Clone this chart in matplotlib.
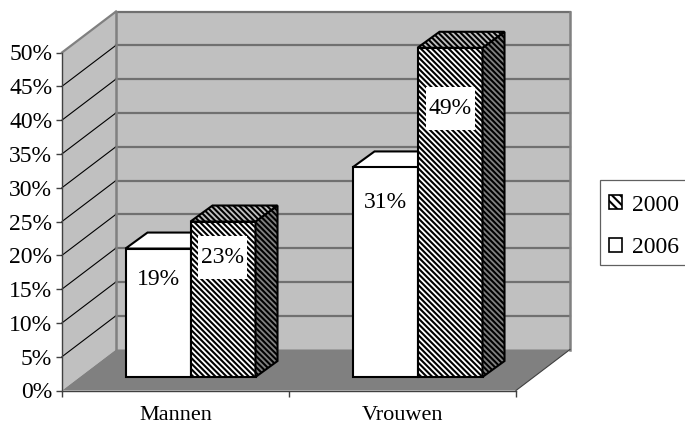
import matplotlib
matplotlib.use('Agg')
import matplotlib.pyplot as plt
from matplotlib.patches import Polygon, Rectangle, Patch

plt.rcParams['font.family'] = ['Liberation Serif', 'DejaVu Serif']
plt.rcParams['hatch.linewidth'] = 1.5

# Data
categories = ['Mannen', 'Vrouwen']
years = ['2000', '2006']
values_2006 = [19, 31]
values_2000 = [23, 48.7]
y_ticks = [0, 5, 10, 15, 20, 25, 30, 35, 40, 45, 50]

# Layout in pixels of the 685x425 picture
W, H = 685, 425
LEFT, RIGHT, BOTTOM, TOP = 62, 516, 390.5, 52.5
PX_X = (RIGHT - LEFT) / 2     # pixels per category
PX_Y = (BOTTOM - TOP) / 50    # pixels per percent
WALL_DX, WALL_DY = 54 / PX_X, 41 / PX_Y
BAR_X, BAR_Y = 15 / PX_X, 13.5 / PX_Y   # bars stand a bit into the floor
BAR_DX, BAR_DY = 22 / PX_X, 16 / PX_Y
BAR_W = 65 / PX_X
FONT = 17
HATCH = '\\' * 6

fig = plt.figure(figsize=(W / 100, H / 100), dpi=100)
ax = fig.add_axes([LEFT / W, 1 - BOTTOM / H, (RIGHT - LEFT) / W, (BOTTOM - TOP) / H])
ax.set_xlim(0, 2)
ax.set_ylim(0, 50)
ax.patch.set_visible(False)


def face(points, **kw):
    ax.add_patch(Polygon(points, closed=True, clip_on=False, **kw))


# Walls and floor
face([(0, 0), (WALL_DX, WALL_DY), (WALL_DX, 50 + WALL_DY), (0, 50)], fc='#c0c0c0', ec='none', zorder=1)
face([(WALL_DX, WALL_DY), (2 + WALL_DX, WALL_DY), (2 + WALL_DX, 50 + WALL_DY), (WALL_DX, 50 + WALL_DY)],
     fc='#c0c0c0', ec='none', zorder=1)
face([(0, 0), (2, 0), (2 + WALL_DX, WALL_DY), (WALL_DX, WALL_DY)], fc='#808080', ec='none', zorder=1)

# Gridlines
for t in y_ticks[1:]:
    ax.plot([WALL_DX, 2 + WALL_DX], [t + WALL_DY, t + WALL_DY], color='#707070', lw=1.6, clip_on=False, zorder=2)
    ax.plot([0, WALL_DX], [t, t + WALL_DY], color='#808080' if t == 50 else 'black',
            lw=1.6 if t == 50 else 0.8, clip_on=False, zorder=2)
ax.plot([WALL_DX, WALL_DX], [WALL_DY, 50 + WALL_DY], color='#808080', lw=1.8, clip_on=False, zorder=2)
ax.plot([2 + WALL_DX, 2 + WALL_DX], [WALL_DY, 50 + WALL_DY], color='#808080', lw=1.8, clip_on=False, zorder=2)
ax.plot([2, 2 + WALL_DX], [0, WALL_DY], color='#404040', lw=0.8, clip_on=False, zorder=2)


def draw_bar(x, value, hatched, z):
    x = x + BAR_X
    base = BAR_Y
    top = base + value
    right = x + BAR_W
    kw = dict(ec='black', lw=1.5, zorder=z)
    if hatched:
        face([(x, base), (right, base), (right, top), (x, top)], fc='white', hatch=HATCH, **kw)
        face([(right, base), (right + BAR_DX, base + BAR_DY), (right + BAR_DX, top + BAR_DY), (right, top)],
             fc='#808080', hatch=HATCH, **kw)
        face([(x, top), (right, top), (right + BAR_DX, top + BAR_DY), (x + BAR_DX, top + BAR_DY)],
             fc='#c0c0c0', hatch=HATCH, **kw)
    else:
        face([(right, base), (right + BAR_DX, base + BAR_DY), (right + BAR_DX, top + BAR_DY), (right, top)],
             fc='#808080', **kw)
        face([(x, top), (right, top), (right + BAR_DX, top + BAR_DY), (x + BAR_DX, top + BAR_DY)],
             fc='white', **kw)
        face([(x, base), (right, base), (right, top), (x, top)], fc='white', **kw)


def draw_label(x, y, value):
    # white box behind the label, 49x43 px
    w, h = 49 / PX_X, 43 / PX_Y
    ax.add_patch(Rectangle((x - w / 2, y - h / 2), w, h, fc='white', ec='none', zorder=20, clip_on=False))
    ax.text(x, y, f'{value:.0f}%', fontsize=FONT, ha='center', va='center', zorder=21, clip_on=False)


# Bars, one category at a time from back to front
for i in range(len(categories)):
    start = i + 0.5 - BAR_W
    draw_bar(start, values_2006[i], False, 5 + i)
    draw_bar(start + BAR_W, values_2000[i], True, 6 + i)

# Data labels, placed by hand as in the picture
label_drop = [4.6, 5.3, 5.15, 8.95]
label_vals = [values_2006[0], values_2000[0], values_2006[1], values_2000[1]]
label_x = [0.5 - BAR_W / 2, 0.5 + BAR_W / 2, 1.5 - BAR_W / 2, 1.5 + BAR_W / 2]
for x, v, d in zip(label_x, label_vals, label_drop):
    draw_label(x + BAR_X, BAR_Y + v - d, v)

# Axes
ax.set_yticks(y_ticks)
ax.set_yticklabels([f'{t}%' for t in y_ticks], fontsize=FONT)
ax.set_xticks([0, 1, 2])
ax.set_xticklabels([])
ax.set_xticks([0.5, 1.5], minor=True)
ax.set_xticklabels(categories, minor=True, fontsize=FONT - 1)
ax.tick_params(axis='both', which='major', length=4.5, width=1, color='#404040', pad=2.5)
ax.tick_params(axis='x', which='minor', length=0, pad=11)
for s in ['top', 'right']:
    ax.spines[s].set_visible(False)
for s in ['left', 'bottom']:
    ax.spines[s].set_color('#404040')
    ax.spines[s].set_linewidth(1)
    ax.spines[s].set_zorder(3)

# Legend box runs off the right edge like the original
fig.add_artist(Rectangle((599.5 / W, 1 - 265 / H), 95 / W, 85 / H, transform=fig.transFigure,
                         fc='white', ec='#606060', lw=0.9))
handles = [Patch(fc='white', ec='black', hatch='\\' * 4, lw=1.2), Patch(fc='white', ec='black', lw=1.2)]
leg = fig.legend(handles, years, loc='upper left', bbox_to_anchor=(604 / W, 1 - 190 / H),
                 borderaxespad=0, fontsize=FONT, handlelength=0.55, handleheight=0.55,
                 handletextpad=0.45, labelspacing=0.92, borderpad=0.2, frameon=False)

fig.savefig('out.png', dpi=100)
